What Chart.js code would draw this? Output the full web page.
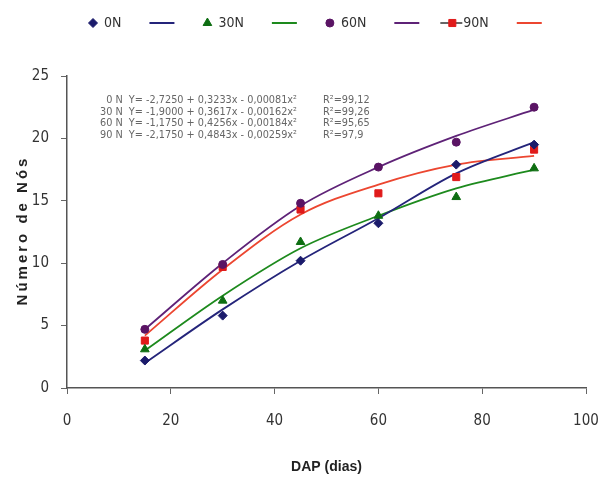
<!DOCTYPE html>
<html>
<head>
<meta charset="utf-8">
<script src="https://cdn.jsdelivr.net/npm/chart.js@4.4.1/dist/chart.umd.min.js"></script>
<style>
  html, body { margin: 0; padding: 0; background: #fff; }
  #wrap { width: 600px; height: 479px; }
</style>
</head>
<body>
<div id="wrap"><canvas id="grafico"></canvas></div>
<script>
// dias apos plantio
const dap = [15, 30, 45, 60, 75, 90];

// valores observados (numero de nos)
const obs0N  = [2.2, 5.8, 10.2, 13.2, 17.9, 19.5];
const obs30N = [3.1, 7.0, 11.7, 13.8, 15.3, 17.6];
const obs60N = [4.7, 9.9, 14.8, 17.7, 19.7, 22.5];
const obs90N = [3.8, 9.7, 14.3, 15.6, 16.9, 19.1];

// curvas ajustadas
const fit0N  = [2.0, 6.3, 10.2, 13.6, 17.2, 19.7];
const fit30N = [3.0, 7.4, 11.2, 13.8, 16.0, 17.5];
const fit60N = [4.7, 10.0, 14.6, 17.7, 20.2, 22.3];
const fit90N = [4.2, 9.5, 13.9, 16.3, 17.9, 18.6];

const nomes = ["0N", "30N", "60N", "90N"];
const equacoes = [
  ["0 N  Y= -2,7250 + 0,3233x - 0,00081x\u00b2", "R\u00b2=99,12"],
  ["30 N  Y= -1,9000 + 0,3617x - 0,00162x\u00b2", "R\u00b2=99,26"],
  ["60 N  Y= -1,1750 + 0,4256x - 0,00184x\u00b2", "R\u00b2=95,65"],
  ["90 N  Y= -2,1750 + 0,4843x - 0,00259x\u00b2", "R\u00b2=97,9"]
];

const corMarca = ["#1b1b6b", "#0e6e12", "#5a1464", "#e01a1a"];
const corLinha = ["#24247a", "#1d8a1d", "#5e2277", "#ec4630"];
const estilos = ["rectRot", "triangle", "circle", "rect"];
const raios = [4.5, 5, 4, 5];

const observados = [obs0N, obs30N, obs60N, obs90N];
const ajustados = [fit0N, fit30N, fit60N, fit90N];

const fonteCond = "'DejaVu Sans Condensed', 'Liberation Sans', Arial, sans-serif";

function pontos(valores) {
  return dap.map((x, i) => ({ x: x, y: valores[i] }));
}

let datasets = [];
for (let i = 0; i < 4; i++) {
  datasets.push({
    label: nomes[i],
    data: pontos(observados[i]),
    showLine: false,
    pointStyle: estilos[i],
    pointRadius: raios[i],
    pointBackgroundColor: corMarca[i],
    pointBorderColor: corMarca[i],
    pointBorderWidth: 1,
    order: 0
  });
  datasets.push({
    label: "",
    data: pontos(ajustados[i]),
    showLine: true,
    borderColor: corLinha[i],
    borderWidth: 1.8,
    pointRadius: 0,
    cubicInterpolationMode: "monotone",
    fill: false,
    order: 1
  });
}

// legenda, titulos dos eixos e equacoes
const extras = {
  id: "extras",
  afterDraw(chart) {
    const ctx = chart.ctx;
    const area = chart.chartArea;
    ctx.save();

    // legenda
    ctx.font = "14px " + fonteCond;
    ctx.textBaseline = "middle";
    ctx.textAlign = "left";
    const yLeg = 23;
    let x = 93;
    for (let i = 0; i < 4; i++) {
      if (i === 3) {
        ctx.strokeStyle = "#333";
        ctx.lineWidth = 1.5;
        ctx.beginPath();
        ctx.moveTo(x - 12, yLeg);
        ctx.lineTo(x + 10, yLeg);
        ctx.stroke();
      }
      ctx.fillStyle = corMarca[i];
      ctx.strokeStyle = corMarca[i];
      ctx.lineWidth = 1;
      Chart.helpers.drawPoint(ctx, { pointStyle: estilos[i], radius: raios[i], rotation: 0, borderWidth: 1 }, x, yLeg);
      ctx.fillStyle = "#333";
      ctx.fillText(nomes[i], x + 11, yLeg);
      const w = ctx.measureText(nomes[i]).width;
      const x1 = x + 11 + w + 28;
      ctx.strokeStyle = corLinha[i];
      ctx.lineWidth = 2;
      ctx.beginPath();
      ctx.moveTo(x1, yLeg);
      ctx.lineTo(x1 + 25, yLeg);
      ctx.stroke();
      x = x1 + 25 + 33;
    }

    // equacoes
    ctx.font = "10.8px " + fonteCond;
    ctx.fillStyle = "#666";
    for (let i = 0; i < equacoes.length; i++) {
      const y = 100 + i * 11.8;
      ctx.textAlign = "right";
      ctx.fillText(equacoes[i][0], 297, y);
      ctx.textAlign = "left";
      ctx.fillText(equacoes[i][1], 323, y);
    }

    // titulos dos eixos
    ctx.fillStyle = "#222";
    ctx.font = "bold 14px 'Liberation Sans', Arial, sans-serif";
    ctx.textAlign = "center";
    ctx.fillText("DAP (dias)", (area.left + area.right) / 2, 467);
    ctx.translate(23, (area.top + area.bottom) / 2);
    ctx.rotate(-Math.PI / 2);
    ctx.font = "bold 15px 'Liberation Sans', Arial, sans-serif";
    ctx.letterSpacing = "3px";
    ctx.fillText("Número de Nós", 1.5, 0);
    ctx.restore();
  }
};

const fonteEixo = { family: fonteCond, size: 15 };

new Chart(document.getElementById("grafico"), {
  type: "scatter",
  data: { datasets: datasets },
  options: {
    responsive: true,
    maintainAspectRatio: false,
    animation: false,
    layout: { padding: { top: 76, right: 14, left: 0, bottom: 0 } },
    plugins: {
      legend: { display: false },
      tooltip: { enabled: false }
    },
    scales: {
      x: {
        type: "linear",
        min: 0,
        max: 100,
        ticks: { stepSize: 20, color: "#333", font: fonteEixo, padding: 18 },
        grid: { drawOnChartArea: false, tickLength: 6, color: "#666" },
        border: { color: "#555", width: 1.5 },
        afterFit: (s) => { s.height = 91; s.paddingRight = 0; s.paddingLeft = 0; }
      },
      y: {
        min: 0,
        max: 25,
        ticks: { stepSize: 5, color: "#333", font: fonteEixo, padding: 12 },
        grid: { drawOnChartArea: false, tickLength: 6, color: "#666" },
        border: { color: "#555", width: 1.5 },
        afterFit: (s) => { s.width = 67; s.paddingTop = 0; s.paddingBottom = 0; }
      }
    }
  },
  plugins: [extras]
});
</script>
</body>
</html>
